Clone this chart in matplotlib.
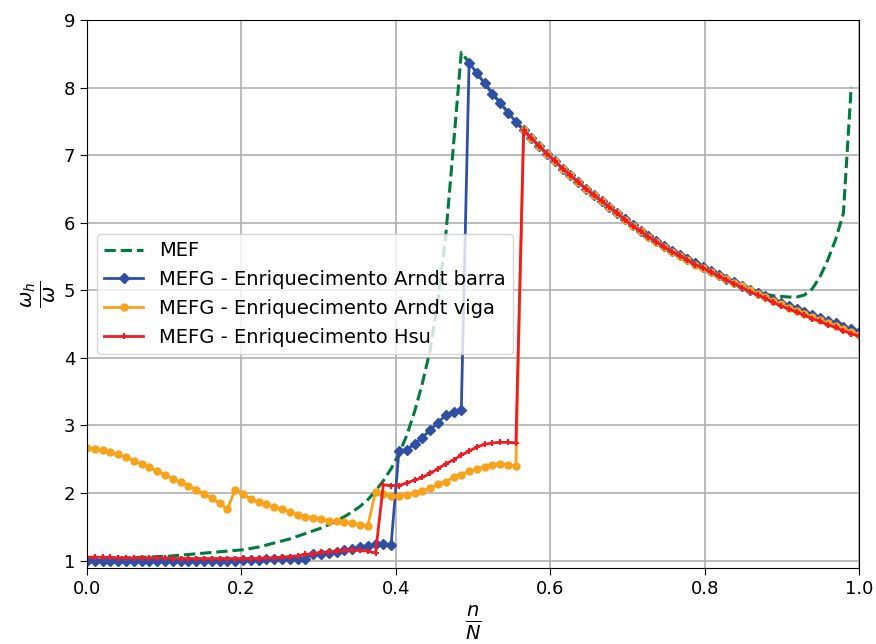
import numpy as np
import matplotlib
matplotlib.use('Agg')
import matplotlib.pyplot as plt

# n/N with N = 99
N = 99
n = np.arange(0, 100)

# MEF (n = 0..98)
mef = [1.03, 1.03, 1.03, 1.03, 1.04, 1.04, 1.04, 1.05, 1.05, 1.06,
       1.06, 1.07, 1.08, 1.09, 1.10, 1.11, 1.12, 1.13, 1.14, 1.15,
       1.16, 1.18, 1.20, 1.23, 1.26, 1.29, 1.32, 1.36, 1.40, 1.44,
       1.48, 1.53, 1.59, 1.65, 1.72, 1.80, 1.90, 2.03, 2.18, 2.36,
       2.58, 2.85, 3.20, 3.62, 4.11, 4.85, 5.80, 7.15, 8.52,
       8.37, 8.21, 8.06, 7.91, 7.77, 7.63, 7.49,
       7.37, 7.25, 7.13, 7.02, 6.91, 6.80, 6.70, 6.60, 6.50, 6.41,
       6.32, 6.23, 6.14, 6.05, 5.96, 5.88, 5.80, 5.73, 5.65, 5.58,
       5.52, 5.46, 5.40, 5.34, 5.28, 5.22, 5.17,
       5.10, 5.05, 5.01, 4.97, 4.94, 4.92, 4.91, 4.90, 4.90, 4.93,
       5.02, 5.20, 5.45, 5.75, 6.14, 8.01]

# MEFG - Arndt barra
barra = [1.00, 1.00, 1.00, 1.00, 1.00, 1.00, 1.00, 1.00, 1.00, 1.00,
         1.00, 1.00, 1.00, 1.00, 1.00, 1.00, 1.00, 1.00, 1.00, 1.00,
         1.01, 1.01, 1.01, 1.02, 1.02, 1.02, 1.02, 1.03, 1.03,
         1.10, 1.09, 1.11, 1.12, 1.15, 1.17, 1.20, 1.22, 1.24, 1.25, 1.23,
         2.62, 2.64, 2.72, 2.82, 2.93, 3.04, 3.15, 3.20, 3.23,
         8.37, 8.21, 8.06, 7.91, 7.77, 7.63, 7.49,
         7.37, 7.25, 7.13, 7.02, 6.91, 6.80, 6.70, 6.60, 6.50, 6.41,
         6.32, 6.23, 6.14, 6.05, 5.96, 5.88, 5.80, 5.73, 5.65, 5.58,
         5.52, 5.46, 5.40, 5.34, 5.28, 5.22,
         5.17, 5.12, 5.07, 5.01, 4.96, 4.91, 4.86, 4.81, 4.77, 4.73,
         4.68, 4.64, 4.59, 4.55, 4.51, 4.46, 4.42, 4.38]

# MEFG - Arndt viga
viga = [2.67, 2.65, 2.63, 2.60, 2.57, 2.53, 2.48, 2.43, 2.38, 2.32,
        2.27, 2.21, 2.16, 2.11, 2.05, 1.99, 1.92, 1.85, 1.76,
        2.05, 1.98, 1.91, 1.86, 1.83, 1.79, 1.76, 1.72, 1.68, 1.65,
        1.63, 1.61, 1.59, 1.58, 1.57, 1.55, 1.53, 1.51,
        2.02, 1.98, 1.95, 1.96, 1.97, 2.00, 2.03, 2.07, 2.13, 2.17,
        2.23, 2.27, 2.32, 2.36, 2.39, 2.42, 2.43, 2.42, 2.40,
        7.37, 7.25, 7.13, 7.02, 6.91, 6.80, 6.70, 6.60, 6.50, 6.41,
        6.32, 6.23, 6.14, 6.04, 5.95, 5.87, 5.79, 5.72, 5.64, 5.57,
        5.51, 5.45, 5.38, 5.33, 5.27, 5.21,
        5.16, 5.11, 5.06, 5.00, 4.95, 4.90, 4.84, 4.79, 4.74, 4.70,
        4.65, 4.60, 4.56, 4.51, 4.47, 4.42, 4.38, 4.34]

# MEFG - Hsu
hsu = [1.05, 1.05, 1.05, 1.05, 1.04, 1.04, 1.04, 1.04, 1.04, 1.04,
       1.04, 1.03, 1.03, 1.03, 1.03, 1.03, 1.03, 1.03, 1.03, 1.03,
       1.03, 1.03, 1.03, 1.04, 1.04, 1.05, 1.06, 1.07, 1.09, 1.10,
       1.12, 1.13, 1.14, 1.15, 1.15, 1.15, 1.14, 1.11,
       2.12, 2.11, 2.11, 2.15, 2.19, 2.23, 2.29, 2.36, 2.43, 2.49,
       2.56, 2.62, 2.68, 2.72, 2.74, 2.75, 2.75, 2.74,
       7.37, 7.25, 7.13, 7.02, 6.91, 6.80, 6.70, 6.60, 6.50, 6.41,
       6.32, 6.23, 6.14, 6.04, 5.95, 5.87, 5.79, 5.72, 5.64, 5.57,
       5.51, 5.45, 5.38, 5.33, 5.27, 5.21,
       5.15, 5.10, 5.04, 4.98, 4.93, 4.88, 4.82, 4.77, 4.72, 4.68,
       4.63, 4.58, 4.54, 4.49, 4.45, 4.40, 4.36, 4.32]

labels = ['MEF',
          'MEFG - Enriquecimento Arndt barra',
          'MEFG - Enriquecimento Arndt viga',
          'MEFG - Enriquecimento Hsu']

x = n / N

fig = plt.figure(figsize=(8.76, 6.44), dpi=100)
ax = fig.add_axes([0.0993, 0.118, 0.8813, 0.851])

ax.plot(x[:len(mef)], mef, '--', color='#007a3d', lw=2.2, label=labels[0])
ax.plot(x, barra, '-', color='#2e4fa3', lw=2, marker='D', ms=5, label=labels[1])
ax.plot(x, viga, '-', color='#f9a21b', lw=2, marker='o', ms=5, label=labels[2])
ax.plot(x, hsu, '-', color='#ee1c25', lw=2, marker='+', ms=5, mew=1.5, label=labels[3])

ax.set_xlim(0, 1.0)
ax.set_ylim(0.89, 9.0)
ax.set_yticks(range(1, 10))
ax.set_xticks([0.0, 0.2, 0.4, 0.6, 0.8, 1.0])
ax.grid(True, color='#b0b0b0', lw=1.2)
ax.set_axisbelow(True)
ax.tick_params(labelsize=13, length=5)

ax.set_xlabel(r'$\frac{n}{N}$', fontsize=20)
ax.set_ylabel(r'$\frac{\omega_h}{\omega}$', fontsize=20)

ax.legend(loc='center left', fontsize=14)

fig.savefig('out.png', dpi=100)
